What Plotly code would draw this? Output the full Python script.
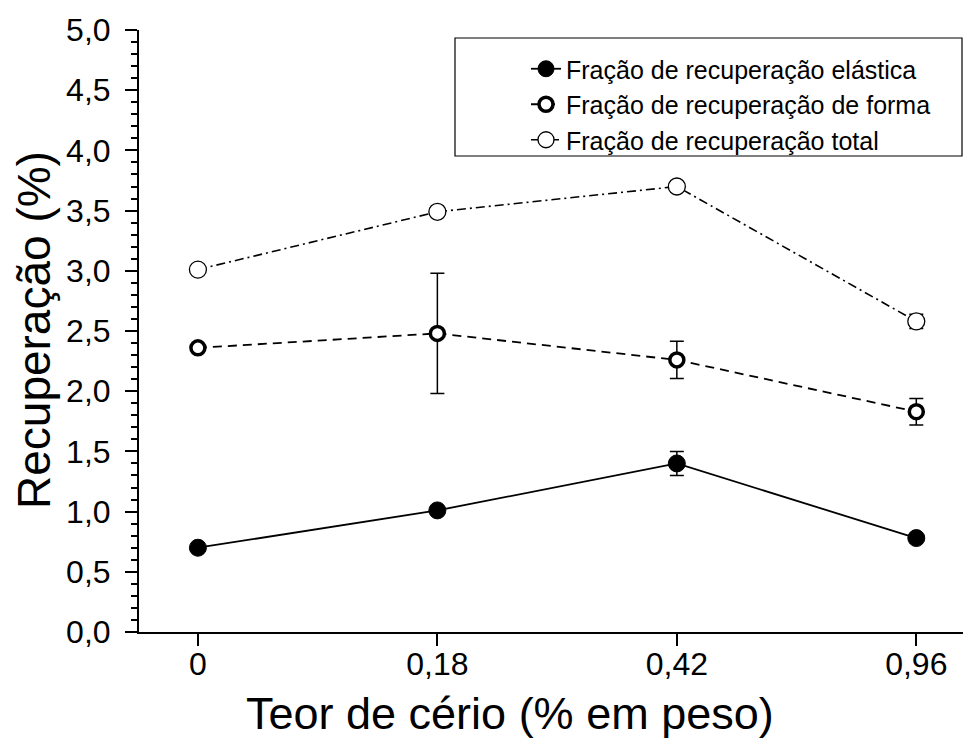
import plotly.graph_objects as go

# Cerium content (% wt) on the x axis
teor = ["0", "0,18", "0,42", "0,96"]

# Recovery fractions (%) and their standard deviations
elastica = [0.70, 1.01, 1.40, 0.78]
elastica_err = [0.02, 0.02, 0.10, 0.02]

forma = [2.36, 2.48, 2.26, 1.83]
forma_err = [0.03, 0.50, 0.155, 0.11]

total = [3.01, 3.49, 3.70, 2.58]
total_err = [0.03, 0.03, 0.02, 0.06]

nomes = [
    "Fração de recuperação elástica",
    "Fração de recuperação de forma",
    "Fração de recuperação total",
]

FONT = "Liberation Sans, Arial, sans-serif"

fig = go.Figure()

fig.add_trace(go.Scatter(
    x=teor, y=elastica, name=nomes[0], mode="lines+markers",
    line=dict(color="black", width=1.8),
    marker=dict(symbol="circle", size=17, color="black",
                line=dict(color="black", width=1)),
    error_y=dict(type="data", array=elastica_err, color="black",
                 thickness=1.5, width=7),
))

fig.add_trace(go.Scatter(
    x=teor, y=forma, name=nomes[1], mode="lines+markers",
    line=dict(color="black", width=1.8, dash="9px,6px"),
    marker=dict(symbol="circle", size=14, color="white",
                line=dict(color="black", width=3.5)),
    error_y=dict(type="data", array=forma_err, color="black",
                 thickness=1.5, width=7),
))

fig.add_trace(go.Scatter(
    x=teor, y=total, name=nomes[2], mode="lines+markers",
    line=dict(color="black", width=1.6, dash="9px,4px,2px,4px"),
    marker=dict(symbol="circle", size=17, color="white",
                line=dict(color="black", width=1.3)),
    error_y=dict(type="data", array=total_err, color="black",
                 thickness=1.5, width=7),
))

L, R, T, B = 139, 1, 30, 108
W, H = 964, 740
pw = W - L - R
ph = H - T - B


def px_x(p):
    return (p - L) / pw


def px_y(p):
    return (H - B - p) / ph


fig.update_layout(
    width=W, height=H,
    margin=dict(l=L, r=R, t=T, b=B, pad=0),
    paper_bgcolor="white", plot_bgcolor="white",
    separators=",.",
    font=dict(family=FONT, color="black"),
    showlegend=True,
    legend=dict(
        x=px_x(526), y=px_y(46), xanchor="left", yanchor="top",
        bgcolor="rgba(0,0,0,0)", borderwidth=0,
        font=dict(family=FONT, size=25, color="black"),
    ),
    xaxis=dict(
        type="category", range=[-0.246, 3.195],
        showline=True, linecolor="black", linewidth=2,
        showgrid=False, zeroline=False,
        ticks="outside", ticklen=12, tickwidth=2, tickcolor="black",
        tickfont=dict(family=FONT, size=32, color="black"),
        ticklabelstandoff=-9,
    ),
    yaxis=dict(
        range=[0, 5], dtick=0.5, tick0=0, tickformat=".1f",
        showline=True, linecolor="black", linewidth=2,
        showgrid=False, zeroline=False,
        ticks="outside", ticklen=12, tickwidth=2, tickcolor="black",
        tickfont=dict(family=FONT, size=32, color="black"),
        ticklabelstandoff=8,
        minor=dict(dtick=0.1, ticks="outside", ticklen=6, tickwidth=2,
                   tickcolor="black", showgrid=False),
    ),
    shapes=[dict(
        type="rect", xref="paper", yref="paper",
        x0=px_x(455), x1=px_x(962), y0=px_y(156), y1=px_y(38),
        line=dict(color="black", width=1.2), fillcolor="rgba(0,0,0,0)",
        layer="above",
    )],
    annotations=[
        dict(text="Teor de cério (% em peso)", xref="paper", yref="paper",
             x=px_x(510), y=px_y(713), xanchor="center", yanchor="middle",
             showarrow=False, font=dict(family=FONT, size=45, color="black")),
        dict(text="Recuperação (%)", xref="paper", yref="paper",
             x=px_x(34), y=px_y(330), xanchor="center", yanchor="middle",
             textangle=-90, showarrow=False,
             font=dict(family=FONT, size=46, color="black")),
    ],
)

fig.write_html("out.html")
